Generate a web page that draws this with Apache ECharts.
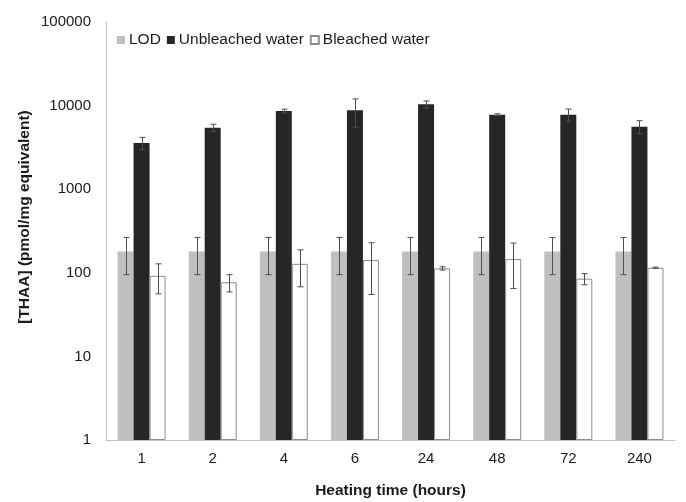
<!DOCTYPE html>
<html>
<head>
<meta charset="utf-8">
<script src="https://cdn.jsdelivr.net/npm/echarts@6/dist/echarts.min.js"></script>
<style>
  html, body { margin: 0; padding: 0; background: #fff; }
  #chart { width: 686px; height: 502px; }
</style>
</head>
<body>
<div id="chart"></div>
<script>
// Heating time categories (hours)
const categories = ['1', '2', '4', '6', '24', '48', '72', '240'];

// Limit of detection and its uncertainty
const lod = [180, 180, 180, 180, 180, 180, 180, 180];
const lodErr = [85, 85, 85, 85, 85, 85, 85, 85];

// Unbleached water: mean THAA and standard deviation
const unbleached = [3570, 5440, 8620, 8780, 10360, 7780, 7780, 5600];
const unbleachedErr = [600, 550, 450, 3250, 1000, 200, 1300, 1000];

// Bleached water: mean THAA and standard deviation
const bleached = [92, 77, 128, 142, 113, 146, 85, 115];
const bleachedErr = [36, 18, 60, 87, 5, 81, 13, 2];

// Y axis decades
const yTicks = [1, 10, 100, 1000, 10000, 100000];

const FONT = '"Liberation Sans", Arial, sans-serif';
const TEXT = '#1a1a1a';
const BAR_W = 16;

function errorSeries(name, values, errs, offset) {
  return {
    type: 'custom',
    name: name + ' error',
    z: 10,
    silent: true,
    data: values.map((v, i) => [i, v, errs[i]]),
    renderItem: function (params, api) {
      const idx = api.value(0), v = api.value(1), e = api.value(2);
      const top = api.coord([idx, v + e]);
      const bot = api.coord([idx, Math.max(v - e, 1e-6)]);
      const cx = Math.round(top[0] + offset) + 0.5;
      const cap = 3;
      const style = { stroke: '#4d4d4d', lineWidth: 1 };
      return {
        type: 'group',
        children: [
          { type: 'line', shape: { x1: cx, y1: top[1], x2: cx, y2: bot[1] }, style: style },
          { type: 'line', shape: { x1: cx - cap, y1: top[1], x2: cx + cap, y2: top[1] }, style: style },
          { type: 'line', shape: { x1: cx - cap, y1: bot[1], x2: cx + cap, y2: bot[1] }, style: style }
        ]
      };
    }
  };
}

const chart = echarts.init(document.getElementById('chart'), null, { renderer: 'canvas' });
chart.setOption({
  animation: false,
  backgroundColor: '#fff',
  textStyle: { fontFamily: FONT, color: TEXT },
  legend: {
    data: ['LOD', 'Unbleached water', 'Bleached water'],
    left: 117,
    top: 32,
    padding: 0,
    icon: 'rect',
    itemWidth: 8,
    itemHeight: 8,
    itemGap: 6,
    textStyle: { fontFamily: FONT, fontSize: 15.5, color: TEXT, padding: [0, 0, 0, -1] }
  },
  grid: { left: 106, right: 11, top: 22, bottom: 62, containLabel: false, outerBoundsMode: 'none' },
  xAxis: {
    type: 'category',
    data: categories,
    name: 'Heating time (hours)',
    nameLocation: 'middle',
    nameGap: 43,
    nameTextStyle: { fontFamily: FONT, fontSize: 15.5, fontWeight: 'bold', color: TEXT },
    axisLine: { lineStyle: { color: '#c0c0c0', width: 1 } },
    axisTick: { show: false },
    axisLabel: { fontFamily: FONT, fontSize: 15, color: TEXT, margin: 11 },
    splitLine: { show: false }
  },
  yAxis: {
    type: 'log',
    logBase: 10,
    min: yTicks[0],
    max: yTicks[yTicks.length - 1],
    axisLine: { show: true, lineStyle: { color: '#c0c0c0', width: 1 } },
    axisTick: { show: false },
    splitLine: { show: false },
    axisLabel: {
      fontFamily: FONT, fontSize: 15, color: TEXT, margin: 15,
      formatter: v => String(Math.round(v))
    }
  },
  graphic: [
    {
      type: 'text',
      x: 25,
      y: 217,
      rotation: Math.PI / 2,
      style: {
        text: '[THAA] (pmol/mg equivalent)',
        font: 'bold 15.5px ' + FONT,
        fill: TEXT,
        align: 'center',
        verticalAlign: 'middle'
      }
    }
  ],
  series: [
    {
      type: 'bar', name: 'LOD', data: lod, barWidth: BAR_W, barGap: '0%',
      itemStyle: { color: '#bfbfbf' }
    },
    {
      type: 'bar', name: 'Unbleached water', data: unbleached, barWidth: BAR_W, barGap: '0%',
      itemStyle: { color: '#262626' }
    },
    {
      type: 'bar', name: 'Bleached water', data: bleached, barWidth: BAR_W, barGap: '0%',
      itemStyle: { color: '#ffffff', borderColor: '#8c8c8c', borderWidth: 1 }
    },
    errorSeries('LOD', lod, lodErr, -BAR_W),
    errorSeries('Unbleached water', unbleached, unbleachedErr, 0),
    errorSeries('Bleached water', bleached, bleachedErr, BAR_W)
  ]
});
</script>
</body>
</html>
